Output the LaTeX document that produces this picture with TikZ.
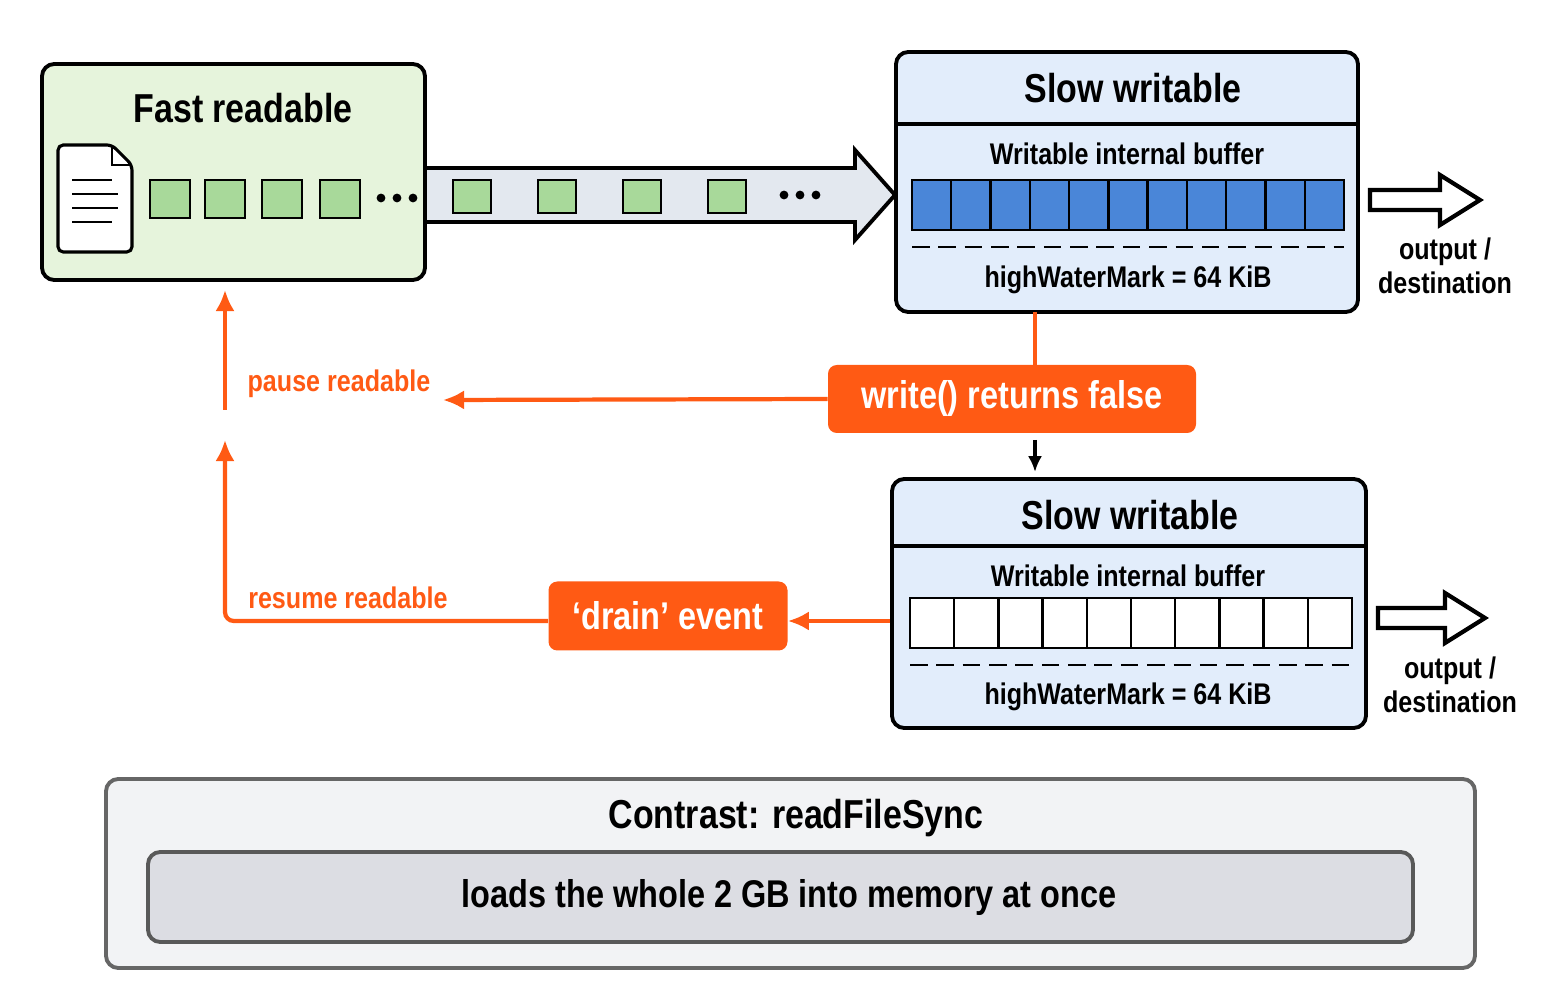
\documentclass[tikz,border=0pt]{standalone}
\usepackage{fontspec}
\setmainfont{Liberation Sans}[FakeStretch=0.84]
\usetikzlibrary{positioning,arrows.meta}
\definecolor{readgreen}{HTML}{E6F4DC}
\definecolor{cellgreen}{HTML}{A8D99A}
\definecolor{pipegray}{HTML}{E3E8EF}
\definecolor{writeblue}{HTML}{E2EDFB}
\definecolor{cellblue}{HTML}{4A86D8}
\definecolor{signal}{HTML}{FF5A14}
\definecolor{panelgray}{HTML}{F2F3F5}
\definecolor{innergray}{HTML}{DCDDE3}
\tikzset{
  panel/.style = {draw, line width=2.2pt, rounded corners=7pt},
  event/.style = {fill=signal, rounded corners=5pt, text=white, font=\fontsize{22}{24}\selectfont\bfseries},
  flow/.style = {draw=signal, line width=2.4pt, -{Latex[length=12pt,width=11pt]}},
  cell/.style = {draw, line width=1.3pt},
  label/.style = {font=\fontsize{17}{19}\selectfont\bfseries},
  title/.style = {font=\fontsize{23}{25}\selectfont\bfseries},
  dot/.style = {fill, circle, inner sep=0pt, minimum size=5pt}
}
\begin{document}
\begin{tikzpicture}[x=0.02cm, y=-0.02cm]
  \useasboundingbox (0,0) rectangle (1563,1006);
  % fast readable side
  \draw [panel, fill=readgreen] (42,64) rectangle (425,280);
  \node [title] (fast) at (243,108) {Fast readable};
  \draw [line width=1.8pt, fill=white, rounded corners=3pt] (58,145) -- (112,145) -- (132,165) -- (132,252) -- (58,252) -- cycle;
  \draw [line width=1.5pt] (112,145) -- (112,165) -- (132,165);
  \foreach \y/\w in {180/40,194/46,208/46,222/40}
    \draw [line width=1.6pt] (72,\y) -- ++(\w,0);
  \foreach \x in {150,205,262,320}
    \draw [cell, fill=cellgreen] (\x,180) rectangle ++(40,38);
  \foreach \x in {381,397,413}
    \node [dot] at (\x,198) {};
  % pipe
  \draw [line width=2.2pt, fill=pipegray] (425,168) -- (855,168) -- (855,150) -- (895,195)
    -- (855,240) -- (855,222) -- (425,222) -- cycle;
  \foreach \x in {453,538,623,708}
    \draw [cell, fill=cellgreen] (\x,180) rectangle ++(38,33);
  \foreach \x in {784,800,816}
    \node [dot] at (\x,195) {};
  % slow writable, full
  \draw [panel, fill=writeblue] (896,52) rectangle (1358,312);
  \draw [line width=1.8pt] (896,124) -- (1358,124);
  \node [title] (slowa) at (1133,88) {Slow writable};
  \node [label] (bufa) at (1127,154) {Writable internal buffer};
  \foreach \i in {0,...,10}
    \draw [cell, fill=cellblue] (912+\i*39.27,180) rectangle ++(39.27,50);
  \draw [line width=1.3pt, dash pattern=on 10pt off 5pt] (912,247) -- (1344,247);
  \node [label] (hwma) at (1128,280) {highWaterMark = 64 KiB};
  \draw [line width=2.4pt, fill=white] (1370,190) -- (1440,190) -- (1440,175) -- (1480,200)
    -- (1440,225) -- (1440,210) -- (1370,210) -- cycle;
  \node [label, align=center] (outa) at (1445,266) {output /\\destination};
  % signals
  \node [event, minimum width=368*0.02cm, minimum height=68*0.02cm] (full) at (1012,399) {write() returns false};
  \draw [signal, line width=2.4pt] (1035,312) -- (full.north -| 1035,0);
  \node [label, text=signal] (pause) at (339,384) {pause readable};
  \coordinate (pausetip) at (443,400);
  \draw [flow] (full.west) -- (pausetip);
  \coordinate (upa) at (225,410);
  \coordinate (fasta) at (225,290);
  \draw [flow] (upa) -- (fasta);
  \coordinate (downa) at (1035,440);
  \coordinate (downb) at (1035,472);
  \draw [line width=1.8pt, -{Latex[length=9pt,width=8pt]}] (downa) -- (downb);
  % slow writable, drained
  \draw [panel, fill=writeblue] (892,479) rectangle (1366,728);
  \draw [line width=1.8pt] (892,546) -- (1366,546);
  \node [title] (slowb) at (1130,515) {Slow writable};
  \node [label] (bufb) at (1128,576) {Writable internal buffer};
  \foreach \i in {0,...,9}
    \draw [cell, fill=white] (910+\i*44.2,598) rectangle ++(44.2,50);
  \draw [line width=1.3pt, dash pattern=on 10pt off 5pt] (910,665) -- (1352,665);
  \node [label] (hwmb) at (1128,697) {highWaterMark = 64 KiB};
  \draw [line width=2.4pt, fill=white] (1378,608) -- (1445,608) -- (1445,593) -- (1485,618)
    -- (1445,643) -- (1445,628) -- (1378,628) -- cycle;
  \node [label, align=center] (outb) at (1450,685) {output /\\destination};
  \node [event, minimum width=239*0.02cm, minimum height=69*0.02cm] (drain) at (668,616) {‘drain’ event};
  \coordinate (drainsrc) at (890,621);
  \draw [flow] (drainsrc) -- (drain.east |- drainsrc);
  \node [label, text=signal] (resume) at (348,598) {resume readable};
  \coordinate (upb) at (225,440);
  \draw [flow, rounded corners=5pt] (drain.west |- drainsrc) -- (225,621) -- (upb);
  % contrast
  \draw [panel, draw=gray!80!black, fill=panelgray] (106,779) rectangle (1475,968);
  \node [title] (contrast) at (796,818) {Contrast: readFileSync};
  \draw [panel, draw=gray!70!black, fill=innergray] (148,852) rectangle (1413,942);
  \node [font=\fontsize{22}{24}\selectfont\bfseries] (whole) at (789,898) {loads the whole 2 GB into memory at once};
\end{tikzpicture}
\end{document}
